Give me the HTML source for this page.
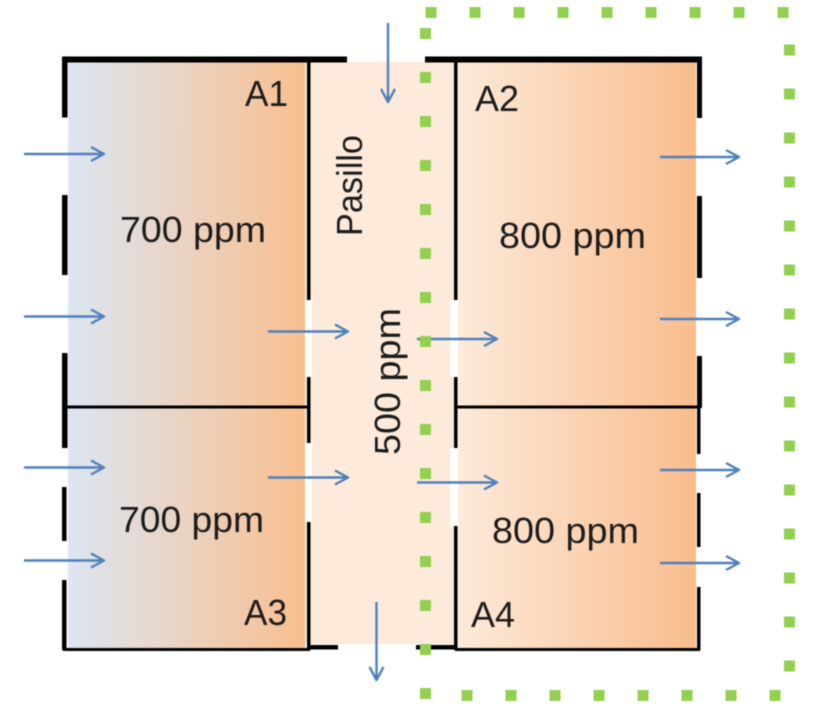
<!DOCTYPE html>
<html lang="es">
<head>
<meta charset="utf-8">
<title>Diagrama ppm</title>
<style>
html,body{margin:0;padding:0;background:#fff;width:831px;height:725px;overflow:hidden}
svg{display:block;position:absolute;left:0;top:0;filter:blur(0.4px)}
text{font-family:"Liberation Sans",sans-serif;font-size:36px;fill:#1c1c1c}
</style>
</head>
<body>
<svg width="831" height="725" viewBox="0 0 831 725" xmlns="http://www.w3.org/2000/svg">
<defs>
<linearGradient id="gl" x1="0" y1="0" x2="1" y2="0">
<stop offset="0" stop-color="#dce6f2"/>
<stop offset="1" stop-color="#f9bf8f"/>
</linearGradient>
<linearGradient id="gr" x1="0" y1="0" x2="1" y2="0">
<stop offset="0" stop-color="#fdeada"/>
<stop offset="1" stop-color="#f9bd8d"/>
</linearGradient>
</defs>

<rect x="68" y="62" width="237" height="586" fill="url(#gl)"/>
<rect x="312" y="62" width="138" height="582" fill="#fdeada"/>
<rect x="458" y="62" width="238" height="586" fill="url(#gr)"/>
<path fill="#fdeada" d="M305 62h7v238h-7zM305 377h7v66h-7zM305 522h7v122h-7zM450 62h8v238h-8zM450 377h8v71h-8zM450 526h8v118h-8z"/>

<path fill="#000" d="M62 56.500h285v6h-285z M425 56.500h277v6h-277z
M62 56.500h5.500v61h-5.500z M62 195h5.500v80h-5.500z M62 353h5.500v95h-5.500z M62 487h4.500v54h-4.500z M62 580h4.500v70h-4.500z
M697 56.500h5v61.500h-5z M697 196h5v82h-5z M697 356h5v52h-5z M697 408h3.500v46h-3.500z M697 493h3.500v54h-3.500z M697 587h3.500v63h-3.500z
M307 60h3.500v240h-3.500z M307 377h3.500v66h-3.500z M307 522h3.500v128h-3.500z
M454 60h3.500v240h-3.500z M454 377h3.500v71h-3.500z M454 526h3.500v124h-3.500z
M65 405.500h243v3h-243z M457 405.500h241v3h-241z M63 648h247v3h-247z M455 648h245v3h-245z
M310 645h28v4.500h-28z M416 645h39v4.500h-39z"/>

<text x="120" y="242" textLength="146" lengthAdjust="spacingAndGlyphs">700 ppm</text>
<text x="119" y="532" textLength="145" lengthAdjust="spacingAndGlyphs">700 ppm</text>
<text x="499" y="248" textLength="147" lengthAdjust="spacingAndGlyphs">800 ppm</text>
<text x="492" y="543" textLength="147" lengthAdjust="spacingAndGlyphs">800 ppm</text>
<text x="245" y="106" textLength="43" lengthAdjust="spacingAndGlyphs">A1</text>
<text x="475" y="111" textLength="44" lengthAdjust="spacingAndGlyphs">A2</text>
<text x="244" y="625" textLength="43" lengthAdjust="spacingAndGlyphs">A3</text>
<text x="471" y="627" textLength="44" lengthAdjust="spacingAndGlyphs">A4</text>
<text transform="translate(362 236) rotate(-90)" textLength="101" lengthAdjust="spacingAndGlyphs">Pasillo</text>
<text transform="translate(400 455) rotate(-90)" textLength="147" lengthAdjust="spacingAndGlyphs">500 ppm</text>

<path fill="none" stroke="#4f81bd" stroke-width="2.400" stroke-linejoin="round" d="
M24 154h80m-13-7l13 7l-13 7
M24 316.500h80m-13-7l13 7l-13 7
M24 467.500h80m-13-7l13 7l-13 7
M24 560.500h80m-13-7l13 7l-13 7
M268 331.500h80m-13-7l13 7l-13 7
M268 477.500h80m-13-7l13 7l-13 7
M417 339h80m-13-7l13 7l-13 7
M417 482.500h80m-13-7l13 7l-13 7
M660 157h79m-13-7l13 7l-13 7
M660 319h79m-13-7l13 7l-13 7
M660 470h79m-13-7l13 7l-13 7
M660 563h79m-13-7l13 7l-13 7
M388 23v79m-7-13l7 13l7-13
M376.500 602v78m-7-13l7 13l7-13"/>

<g fill="none" stroke="#92d050" stroke-width="11" stroke-dasharray="11 33">
<path d="M425.500 12.500H789"/>
<path d="M425.500 28V700"/>
<path d="M789.500 44.500V672"/>
<path d="M461.500 695.500H781"/>
</g>
</svg>
</body>
</html>
